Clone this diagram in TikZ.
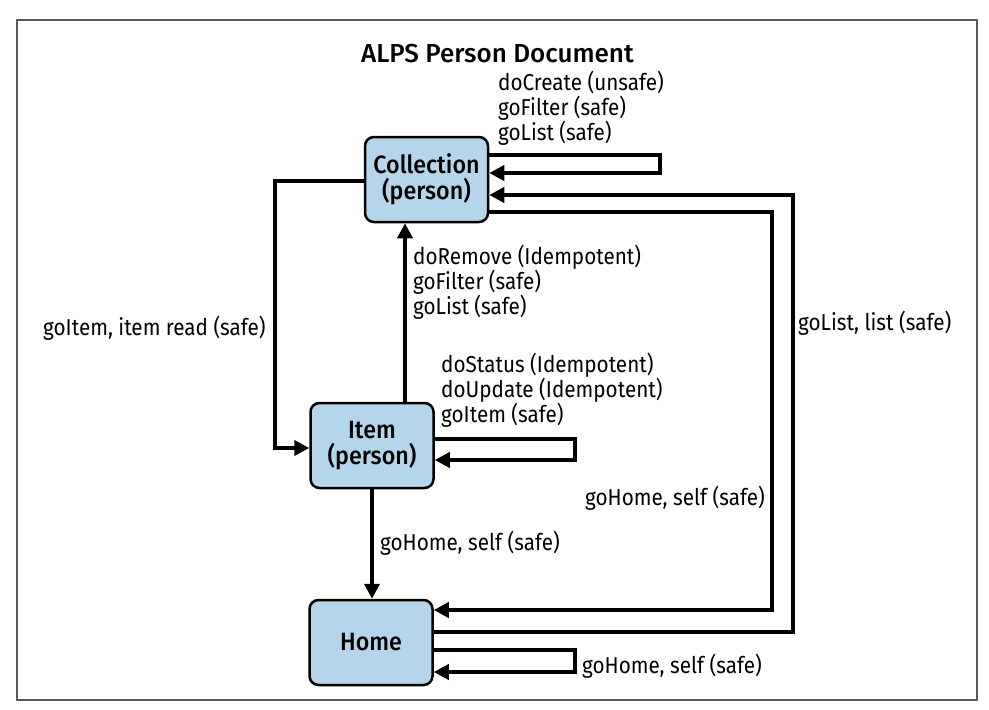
\documentclass[tikz,border=0pt]{standalone}
\usepackage{fontspec}
\setmainfont{Fira Sans}[FakeStretch=0.9]
\newfontfamily\medfont{Fira Sans Medium}[FakeStretch=0.93]
\newfontfamily\titlefont{Fira Sans Medium}
\usetikzlibrary{arrows.meta}
\definecolor{boxblue}{RGB}{181,213,235}
\definecolor{framegray}{RGB}{90,90,90}
\begin{document}
\begin{tikzpicture}[x=1pt,y=-1pt,
  state/.style={draw=black,line width=2.5pt,fill=boxblue,rounded corners=9pt,
    minimum width=123pt,minimum height=85pt,inner sep=0pt,align=center,
    font=\medfont\fontsize{25}{26}\selectfont},
  conn/.style={line width=4pt,-{Triangle[length=15pt,width=15pt]}},
  lbl/.style={font=\fontsize{23}{25}\selectfont,align=left,inner sep=0pt,anchor=base west},
  titlestyle/.style={font=\titlefont\fontsize{26}{30}\selectfont,inner sep=0pt,anchor=base}
]
\useasboundingbox (0,0) rectangle (989,710);
\draw[framegray,line width=1.5pt] (17,20) rectangle (977,700);

\node[titlestyle] (title) at (497.5,62) {ALPS Person Document};

\node[state] (coll) at (426.5,179.5) {Collection\\(person)};
\node[state] (item) at (372,445.5) {Item\\(person)};
\node[state] (home) at (371,642.5) {Home};

% collection self loop
\coordinate (cl1) at (660,155);
\coordinate (cl2) at (660,173);
\draw[conn] (coll.east |- cl1) -- (cl1) -- (cl2) -- (coll.east |- cl2);

% home -> collection
\coordinate (hc1) at (793,632);
\coordinate (hc2) at (793,195);
\draw[conn] (home.east |- hc1) -- (hc1) -- (hc2) -- (coll.east |- hc2);

% collection -> home
\coordinate (ch1) at (772,212);
\coordinate (ch2) at (772,610);
\draw[conn] (coll.east |- ch1) -- (ch1) -- (ch2) -- (home.east |- ch2);

% home self loop
\coordinate (hl1) at (575,650);
\coordinate (hl2) at (575,672);
\draw[conn] (home.east |- hl1) -- (hl1) -- (hl2) -- (home.east |- hl2);

% item self loop
\coordinate (il1) at (575,439);
\coordinate (il2) at (575,460);
\draw[conn] (item.east |- il1) -- (il1) -- (il2) -- (item.east |- il2);

% collection -> item
\coordinate (ci1) at (275,181);
\coordinate (ci2) at (275,448);
\draw[conn] (coll.west |- ci1) -- (ci1) -- (ci2) -- (item.west |- ci2);

% item -> collection
\coordinate (icx) at (405,0);
\draw[conn] (item.north -| icx) -- (coll.south -| icx);

% item -> home
\draw[conn] (item.south) -- (item.south |- home.north);

% labels (base = baseline of last line)
\node[lbl] (lcl) at (498,140) {doCreate (unsafe)\\goFilter (safe)\\goList (safe)};
\node[lbl] (lic) at (413,314) {doRemove (Idempotent)\\goFilter (safe)\\goList (safe)};
\node[lbl] (lil) at (441,422) {doStatus (Idempotent)\\doUpdate (Idempotent)\\goItem (safe)};
\node[lbl] (lci) at (43,335) {goItem, item read (safe)};
\node[lbl] (lhc) at (798,330) {goList, list (safe)};
\node[lbl] (lch) at (585,505) {goHome, self (safe)};
\node[lbl] (lih) at (380,550) {goHome, self (safe)};
\node[lbl] (lhl) at (582,673) {goHome, self (safe)};
\end{tikzpicture}
\end{document}
